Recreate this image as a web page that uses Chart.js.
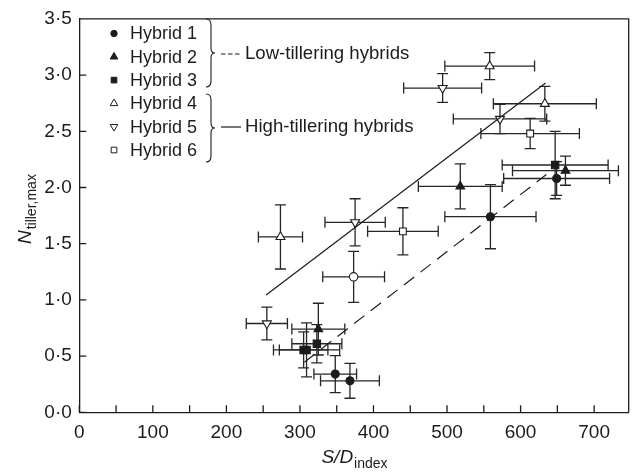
<!DOCTYPE html>
<html>
<head>
<meta charset="utf-8">
<script src="https://cdn.jsdelivr.net/npm/chart.js@4/dist/chart.umd.min.js"></script>
<style>
  html, body { margin: 0; padding: 0; background: #fff; }
  #c { display: block; }
</style>
</head>
<body>
<canvas id="c" width="635" height="476"></canvas>
<script>
// values: S/D index (x), N tiller,max (y), with +/- errors
const h1X = [348, 368, 559, 649];
const h1Y = [0.34, 0.28, 1.74, 2.08];
const h1XErr = [29, 40, 62, 72];
const h1YErr = [0.165, 0.155, 0.285, 0.15];

const h2X = [325, 518, 661];
const h2Y = [0.74, 2.01, 2.15];
const h2XErr = [36, 57, 72];
const h2YErr = [0.23, 0.2, 0.13];

const h3X = [305, 309, 323, 647];
const h3Y = [0.555, 0.555, 0.61, 2.2];
const h3XErr = [33, 45, 34, 72];
const h3YErr = [0.16, 0.24, 0.17, 0.3];

const h4X = [273.5, 558, 633];
const h4Y = [1.56, 3.08, 2.745];
const h4XErr = [30, 61, 70];
const h4YErr = [0.285, 0.12, 0.155];

const h5X = [255, 375, 494, 572];
const h5Y = [0.79, 1.69, 2.885, 2.61];
const h5XErr = [28, 41, 53, 63.5];
const h5YErr = [0.145, 0.21, 0.128, 0.13];

const h6X = [440, 613];
const h6Y = [1.61, 2.48];
const h6XErr = [48, 67];
const h6YErr = [0.21, 0.135];

// open circle (not in legend)
const ocX = [373];
const ocY = [1.205];
const ocXErr = [42];
const ocYErr = [0.227];

// fitted lines
const lowLineX = [306, 635];
const lowLineY = [0.446, 2.115];
const highLineX = [254, 634];
const highLineY = [1.043, 2.93];

const xTicks = [0, 100, 200, 300, 400, 500, 600, 700];
const xMinorTicks = [50, 150, 250, 350, 450, 550, 650];
const yTicks = [0, 0.5, 1, 1.5, 2, 2.5, 3, 3.5];

const legendNames = ['Hybrid 1', 'Hybrid 2', 'Hybrid 3', 'Hybrid 4', 'Hybrid 5', 'Hybrid 6'];
const groupNames = ['Low-tillering hybrids', 'High-tillering hybrids'];

const INK = '#1c1c1c';
const FONT = '"Liberation Sans", Arial, Helvetica, sans-serif';

function pts(xs, ys) { return xs.map((x, i) => ({ x: x, y: ys[i] })); }

function markerSet(label, xs, ys, xe, ye, style, rot, open, r) {
  return {
    type: 'scatter', label: label, data: pts(xs, ys), xErr: xe, yErr: ye,
    pointStyle: style, rotation: rot, radius: r, pointRadius: r,
    backgroundColor: open ? '#fff' : INK, borderColor: INK, borderWidth: 1.1,
  };
}

// error bars, drawn under the markers
const errorBars = {
  id: 'errorBars',
  beforeDatasetsDraw(chart) {
    const { ctx, scales: { x, y } } = chart;
    ctx.save();
    ctx.strokeStyle = '#262626';
    ctx.lineWidth = 1.3;
    chart.data.datasets.forEach(ds => {
      if (!ds.xErr) return;
      ds.data.forEach((p, i) => {
        const px = x.getPixelForValue(p.x), py = y.getPixelForValue(p.y);
        const x0 = x.getPixelForValue(p.x - ds.xErr[i]), x1 = x.getPixelForValue(p.x + ds.xErr[i]);
        const y0 = y.getPixelForValue(p.y - ds.yErr[i]), y1 = y.getPixelForValue(p.y + ds.yErr[i]);
        const cap = 5.5;
        ctx.beginPath();
        ctx.moveTo(x0, py); ctx.lineTo(x1, py);
        ctx.moveTo(x0, py - cap); ctx.lineTo(x0, py + cap);
        ctx.moveTo(x1, py - cap); ctx.lineTo(x1, py + cap);
        ctx.moveTo(px, y0); ctx.lineTo(px, y1);
        ctx.moveTo(px - cap, y0); ctx.lineTo(px + cap, y0);
        ctx.moveTo(px - cap, y1); ctx.lineTo(px + cap, y1);
        ctx.stroke();
      });
    });
    ctx.restore();
  }
};

// frame, inward ticks, axis titles, bracketed legend
const decor = {
  id: 'decor',
  afterDraw(chart) {
    const { ctx, chartArea: a, scales: { x, y } } = chart;
    ctx.save();
    ctx.strokeStyle = INK;
    ctx.lineWidth = 1.3;
    ctx.beginPath();
    ctx.moveTo(a.left, a.top); ctx.lineTo(a.right, a.top); ctx.lineTo(a.right, a.bottom);
    xTicks.concat(xMinorTicks).forEach(v => {
      const px = x.getPixelForValue(v);
      ctx.moveTo(px, a.bottom); ctx.lineTo(px, a.bottom - 7);
    });
    yTicks.forEach(v => {
      const py = y.getPixelForValue(v);
      ctx.moveTo(a.left, py); ctx.lineTo(a.left + 7, py);
    });
    ctx.stroke();

    // x title: S/D index
    ctx.fillStyle = INK;
    ctx.textBaseline = 'alphabetic';
    ctx.textAlign = 'left';
    const main = 'S/D';
    ctx.font = '14px ' + FONT;
    const subW = ctx.measureText('index').width;
    ctx.font = 'italic 19px ' + FONT;
    const mainW = ctx.measureText(main).width;
    let sx = (a.left + a.right) / 2 - (mainW + subW) / 2;
    ctx.fillText(main, sx, 463);
    ctx.font = '14px ' + FONT;
    ctx.fillText('index', sx + mainW + 1, 468);

    // y title: N tiller,max
    ctx.save();
    ctx.translate(31, (a.top + a.bottom) / 2 - 6);
    ctx.rotate(-Math.PI / 2);
    ctx.font = 'italic 19px ' + FONT;
    const nW = ctx.measureText('N').width;
    ctx.font = '14px ' + FONT;
    const tW = ctx.measureText('tiller,max').width;
    const ox = -(nW + tW) / 2;
    ctx.font = 'italic 19px ' + FONT;
    ctx.fillText('N', ox, 0);
    ctx.font = '14px ' + FONT;
    ctx.fillText('tiller,max', ox + nW + 1, 5);
    ctx.restore();

    // legend
    const styles = [['circle', 0, false], ['triangle', 0, false], ['rect', 0, false],
                    ['triangle', 0, true], ['triangle', 180, true], ['rect', 0, true]];
    ctx.font = '18px ' + FONT;
    ctx.textBaseline = 'middle';
    legendNames.forEach((name, i) => {
      const ly = 33.5 + i * 23.3;
      const s = styles[i];
      ctx.fillStyle = s[2] ? '#fff' : INK;
      ctx.strokeStyle = INK;
      ctx.lineWidth = 1;
      const r = s[0] === 'circle' ? 3.2 : s[0] === 'rect' ? 4 : 4.4;
      Chart.helpers.drawPoint(ctx, { pointStyle: s[0], rotation: s[1], radius: r, borderWidth: 1 }, 114, ly);
      ctx.fillStyle = INK;
      ctx.fillText(name, 130, ly + 1);
    });

    function brace(x0, yTop, yBot) {
      const ym = (yTop + yBot) / 2, w = 5;
      ctx.beginPath();
      ctx.moveTo(x0, yTop);
      ctx.quadraticCurveTo(x0 + w, yTop, x0 + w, yTop + 6);
      ctx.lineTo(x0 + w, ym - 5);
      ctx.quadraticCurveTo(x0 + w, ym, x0 + w + 4, ym);
      ctx.quadraticCurveTo(x0 + w, ym, x0 + w, ym + 5);
      ctx.lineTo(x0 + w, yBot - 6);
      ctx.quadraticCurveTo(x0 + w, yBot, x0, yBot);
      ctx.stroke();
    }
    ctx.strokeStyle = INK;
    ctx.lineWidth = 1.1;
    brace(206, 19, 87);
    brace(206, 94, 162);

    ctx.lineWidth = 1.2;
    ctx.beginPath();
    ctx.setLineDash([4.5, 2.5]);
    ctx.moveTo(221, 54); ctx.lineTo(241, 54);
    ctx.stroke();
    ctx.setLineDash([]);
    ctx.beginPath();
    ctx.moveTo(221, 127); ctx.lineTo(241, 127);
    ctx.stroke();
    ctx.fillStyle = INK;
    ctx.font = '18.6px ' + FONT;
    ctx.fillText(groupNames[0], 245, 54);
    ctx.fillText(groupNames[1], 245, 127);
    ctx.restore();
  }
};

const fmtY = v => v.toFixed(1).replace('.', '\u00b7');

new Chart(document.getElementById('c').getContext('2d'), {
  data: {
    datasets: [
      { type: 'line', label: 'low fit', data: pts(lowLineX, lowLineY), borderColor: INK, borderWidth: 1.2,
        borderDash: [13, 8], pointRadius: 0, fill: false },
      { type: 'line', label: 'high fit', data: pts(highLineX, highLineY), borderColor: INK, borderWidth: 1.2,
        pointRadius: 0, fill: false },
      markerSet('Hybrid 1', h1X, h1Y, h1XErr, h1YErr, 'circle', 0, false, 4),
      markerSet('Hybrid 2', h2X, h2Y, h2XErr, h2YErr, 'triangle', 0, false, 5),
      markerSet('Hybrid 3', h3X, h3Y, h3XErr, h3YErr, 'rect', 0, false, 5.2),
      markerSet('Hybrid 4', h4X, h4Y, h4XErr, h4YErr, 'triangle', 0, true, 5.2),
      markerSet('Hybrid 5', h5X, h5Y, h5XErr, h5YErr, 'triangle', 180, true, 5.2),
      markerSet('Hybrid 6', h6X, h6Y, h6XErr, h6YErr, 'rect', 0, true, 4.8),
      markerSet('open circle', ocX, ocY, ocXErr, ocYErr, 'circle', 0, true, 4.2),
    ],
  },
  options: {
    responsive: false,
    animation: false,
    layout: { padding: { top: 15, right: 2.7, left: 0, bottom: 0 } },
    plugins: { legend: { display: false }, tooltip: { enabled: false } },
    scales: {
      x: {
        type: 'linear', min: 0, max: 747,
        afterFit: s => { s.height = 63.7; },
        afterBuildTicks: s => { s.ticks = xTicks.map(v => ({ value: v })); },
        grid: { display: false, drawTicks: false },
        border: { display: true, color: INK, width: 1.3 },
        ticks: { padding: 9, color: INK, font: { family: FONT, size: 19 }, maxRotation: 0 },
      },
      y: {
        type: 'linear', min: 0, max: 3.5,
        afterFit: s => { s.width = 79.3; },
        afterBuildTicks: s => { s.ticks = yTicks.map(v => ({ value: v })); },
        grid: { display: false, drawTicks: false },
        border: { display: true, color: INK, width: 1.3 },
        ticks: { padding: 7.5, color: INK, font: { family: FONT, size: 19 }, callback: fmtY },
      },
    },
  },
  plugins: [errorBars, decor],
});
</script>
</body>
</html>
